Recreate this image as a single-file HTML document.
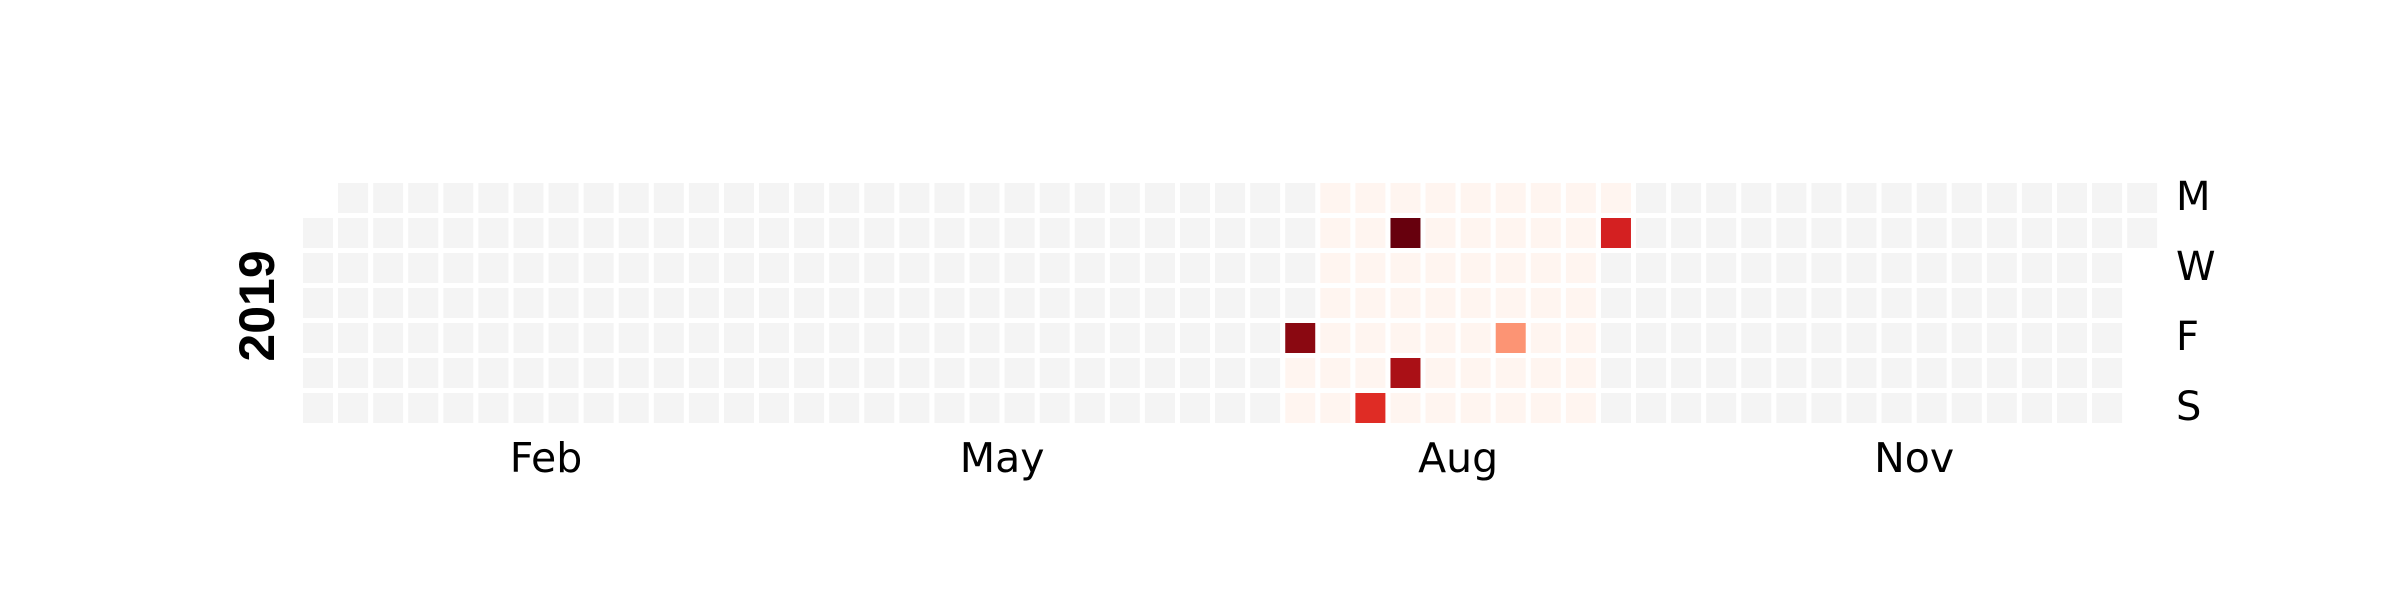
<!DOCTYPE html>
<html><head><meta charset="utf-8"><style>
html,body{margin:0;padding:0;background:#fff;}
svg{display:block;}
</style></head><body>
<svg id="chart" width="2400" height="600" xmlns="http://www.w3.org/2000/svg">
<g id="cells"></g>
<text transform="translate(274,306) rotate(-90)" text-anchor="middle" font-family="Liberation Sans, sans-serif" font-weight="bold" font-size="50">2019</text>
<g id="months"></g>
<g id="days"></g>
</svg>
<script>
// data
const year = 2019;
const dataStartDay = 199;   // day-of-year index (0-based) of first recorded day
const dataEndDay = 259;     // last recorded day
const eventDays = [199, 215, 217, 221, 241, 259];
const eventValues = [9.3, 6.8, 10, 8.6, 3.7, 7.2];
const monthLabels = ['Feb', 'May', 'Aug', 'Nov'];
const monthLabelCols = [6.5, 19.5, 32.5, 45.5];
const dayLabels = ['M', 'W', 'F', 'S'];
const dayLabelRows = [0, 2, 4, 6];

const X0 = 303, Y0 = 183, PX = 35.08, PY = 35, CW = 30, CH = 30;
const colX = c => X0 + c * PX;
const rowY = r => Y0 + r * PY;
const vmax = Math.max(...eventValues), vmin = 0;
const reds = [[255,245,240],[254,224,210],[252,187,161],[252,146,114],[251,106,74],[239,59,44],[203,24,29],[165,15,21],[103,0,13]];
function cmap(v){
  let t = (v - vmin) / (vmax - vmin); t = Math.max(0, Math.min(1, t));
  const p = t * (reds.length - 1), i = Math.min(Math.floor(p), reds.length - 2), f = p - i;
  const c = reds[i].map((a, k) => Math.round(a + (reds[i+1][k] - a) * f));
  return `rgb(${c[0]},${c[1]},${c[2]})`;
}
const NS = 'http://www.w3.org/2000/svg';
const cells = document.getElementById('cells');
const jan1 = new Date(year, 0, 1);
const firstDow = (jan1.getDay() + 6) % 7; // Monday=0
const nDays = 365;
for (let d = 0; d < nDays; d++) {
  const idx = d + firstDow;
  const col = Math.floor(idx / 7), row = idx % 7;
  let fill = '#f4f4f4';
  if (d >= dataStartDay && d <= dataEndDay) {
    const k = eventDays.indexOf(d);
    fill = cmap(k >= 0 ? eventValues[k] : 0);
  }
  const r = document.createElementNS(NS, 'rect');
  r.setAttribute('x', colX(col).toFixed(2));
  r.setAttribute('y', rowY(row));
  r.setAttribute('width', CW);
  r.setAttribute('height', CH);
  r.setAttribute('fill', fill);
  
  
  cells.appendChild(r);
}
const months = document.getElementById('months');
monthLabels.forEach((m, i) => {
  const t = document.createElementNS(NS, 'text');
  t.setAttribute('x', (colX(monthLabelCols[i]) + CW / 2).toFixed(1));
  t.setAttribute('y', 472);
  t.setAttribute('text-anchor', 'middle');
  t.setAttribute('font-family', 'DejaVu Sans, sans-serif');
  t.setAttribute('font-size', '41');
  t.textContent = m;
  
  
  months.appendChild(t);
});
const days = document.getElementById('days');
dayLabels.forEach((s, i) => {
  const t = document.createElementNS(NS, 'text');
  t.setAttribute('x', 2176);
  t.setAttribute('y', rowY(dayLabelRows[i]) + CH / 2 + 12);
  t.setAttribute('font-family', 'DejaVu Sans, sans-serif');
  t.setAttribute('font-size', '40');
  t.textContent = s;
  
  
  days.appendChild(t);
});
</script>
</body></html>
